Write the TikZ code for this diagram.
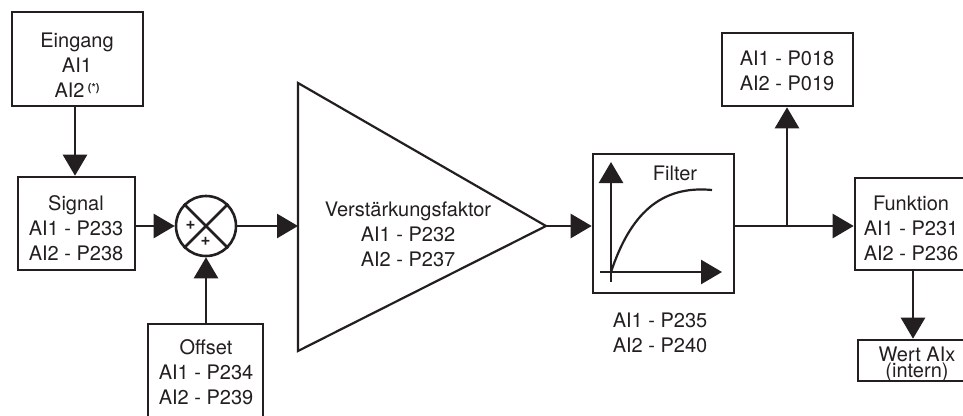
\documentclass[tikz,border=0pt]{standalone}
\usepackage{fontspec}
\setmainfont{TeX Gyre Heros}
\usetikzlibrary{arrows.meta}
\definecolor{ink}{RGB}{35,31,32}
\begin{document}
\begin{tikzpicture}[x=1pt,y=-1pt,
  box/.style={draw=ink, line width=2.6pt, rectangle, inner sep=0pt},
  txt/.style={text=ink, font=\fontsize{20}{25}\selectfont, align=center, inner sep=0pt},
  ln/.style={draw=ink, line width=2.6pt},
  arr/.style={draw=ink, line width=2.6pt, -{Triangle[length=21pt,width=24pt]}},
  pl/.style={text=ink, font=\fontsize{17}{17}\selectfont\bfseries, inner sep=0pt}]
\clip (0,0) rectangle (963,415);
\fill[white] (0,0) rectangle (963,415);
% boxes
\node[box, minimum width=131pt, minimum height=94pt] (ein) at (77.5,59) {};
\node[box, minimum width=117pt, minimum height=93pt] (sig) at (76.5,223.5) {};
\node[box, minimum width=115pt, minimum height=106pt] (off) at (205.5,377) {};
\node[box, minimum width=141pt, minimum height=139pt] (filt) at (663.5,223.5) {};
\node[box, minimum width=131pt, minimum height=73pt] (top) at (787.5,69.5) {};
\node[box, minimum width=116pt, minimum height=92pt] (fun) at (913,224) {};
\node[box, minimum width=110pt, minimum height=41pt] (wert) at (913,360.5) {};
\node[draw=ink, line width=2.6pt, circle, minimum size=60pt, inner sep=0pt] (sum) at (206,226) {};
% texts
\node[txt] (einT) at (77,65) {Eingang\\AI1\\AI2\,\raisebox{6pt}{\fontsize{11}{11}\selectfont\bfseries(*)}};
\node[txt] (sigT) at (76,228) {Signal\\AI1 - P233\\AI2 - P238};
\node[txt] (offT) at (206,372) {Offset\\AI1 - P234\\AI2 - P239};
\node[txt] (triT) at (408,234) {Verstärkungsfaktor\\AI1 - P232\\AI2 - P237};
\node[txt] (topT) at (787,70.5) {AI1 - P018\\AI2 - P019};
\node[txt] (funT) at (911,228) {Funktion\\AI1 - P231\\AI2 - P236};
\node[txt] (wertT) at (917,364) {Wert AIx\\[-9pt](intern)};
\node[txt] (filtT) at (675,173) {Filter};
\node[txt] (filtP) at (660,332.5) {AI1 - P235\\AI2 - P240};
% summing junction
\draw[ln] (sum.north west) -- (sum.south east);
\draw[ln] (sum.north east) -- (sum.south west);
\node[pl] (p1) at (190.5,225) {+};
\node[pl] (p2) at (205.5,241.5) {+};
% amplifier triangle
\coordinate (tA) at (298,83);
\coordinate (tB) at (298,351);
\coordinate (tC) at (546,226);
\coordinate (tIn) at (298,226);
\draw[draw=ink, line width=2.2pt, line join=miter] (tA) -- (tC) -- (tB) -- cycle;
% filter graph
\coordinate (vy0) at (611,282);
\coordinate (vy1) at (611,162);
\coordinate (hx0) at (600,272);
\coordinate (hx1) at (722,272);
\draw[arr] (vy0) -- (vy1);
\draw[arr] (hx0) -- (hx1);
\draw[draw=ink, line width=2.2pt] (611,272) .. controls (630,215) and (660,185) .. (712,190);
% connectors
\coordinate (jn) at (787,226);
\draw[arr] (ein.south -| 75,0) -- (sig.north -| 75,0);
\draw[arr] (sig.east |- sum) -- (sum.west);
\draw[arr] (off.north -| sum) -- (sum.south);
\draw[arr] (sum.east) -- (tIn);
\draw[arr] (tC) -- (filt.west |- tC);
\draw[ln] (filt.east |- jn) -- (jn);
\draw[arr] (jn) -- (fun.west |- jn);
\draw[arr] (jn) -- (jn |- top.south);
\draw[arr] (fun.south) -- (wert.north);
\end{tikzpicture}
\end{document}
